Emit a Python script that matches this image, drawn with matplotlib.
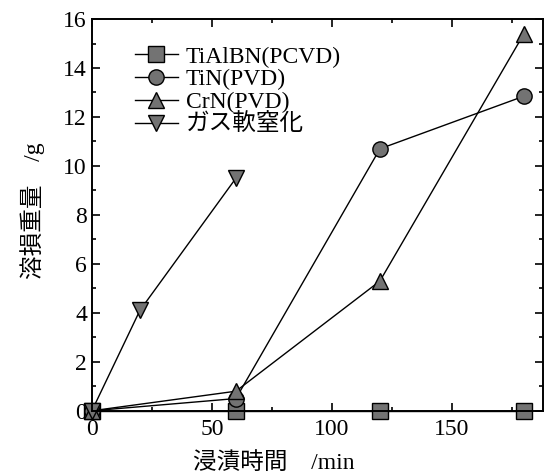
import matplotlib
matplotlib.use('Agg')
import matplotlib.pyplot as plt
from matplotlib.ticker import MultipleLocator

# data
tialbn_x = [0, 60, 120, 180]
tialbn_y = [0, 0, 0, 0]
tin_x = [0, 60, 120, 180]
tin_y = [0, 0.5, 10.7, 12.85]
crn_x = [0, 60, 120, 180]
crn_y = [0, 0.8, 5.3, 15.4]
gas_x = [0, 20, 60]
gas_y = [0, 4.1, 9.5]

labels = ['TiAlBN(PCVD)', 'TiN(PVD)', 'CrN(PVD)', 'ガス軟窒化']

fonts = ['Liberation Serif', 'Noto Sans CJK JP', 'DejaVu Sans']
plt.rcParams['font.family'] = fonts


def main():
    fig = plt.figure(figsize=(5.47, 4.76), dpi=100)
    ax = fig.add_axes([0.168, 0.137, 0.825, 0.823])

    style = dict(color='black', lw=1.0, markerfacecolor='#737373',
                 markeredgecolor='black', markeredgewidth=1.0, markersize=11,
                 clip_on=False)
    ax.plot(tialbn_x, tialbn_y, marker='s', label=labels[0], **style)
    ax.plot(tin_x, tin_y, marker='o', label=labels[1], **style)
    ax.plot(crn_x, crn_y, marker='^', label=labels[2], **style)
    ax.plot(gas_x, gas_y, marker='v', label=labels[3], **style)

    ax.set_xlim(0, 188)
    ax.set_ylim(0, 16)
    ax.xaxis.set_major_locator(MultipleLocator(50))
    ax.xaxis.set_minor_locator(MultipleLocator(25))
    ax.yaxis.set_major_locator(MultipleLocator(2))
    ax.yaxis.set_minor_locator(MultipleLocator(1))
    ax.tick_params(which='both', direction='in', top=True, right=True,
                   labelsize=17, width=1.2)
    ax.tick_params(which='major', length=6)
    ax.tick_params(which='minor', length=3)
    ax.tick_params(axis='x', pad=6)
    for s in ax.spines.values():
        s.set_linewidth(1.4)

    ax.set_xlabel('浸漬時間　/min', fontsize=17)
    ax.xaxis.set_label_coords(0.404, -0.105)
    ax.set_ylabel('溶損重量　/g', fontsize=17)
    ax.yaxis.set_label_coords(-0.105, 0.51)

    ax.legend(loc='upper left', frameon=False, fontsize=17, handlelength=1.8,
              handletextpad=0.35, labelspacing=0.05, borderaxespad=0.0,
              bbox_to_anchor=(0.075, 0.955))

    fig.savefig('out.png', dpi=100)


if __name__ == '__main__':
    main()
